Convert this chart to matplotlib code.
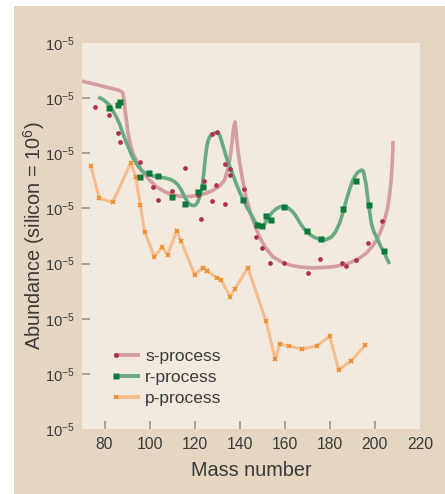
import numpy as np
import matplotlib
matplotlib.use("Agg")
import matplotlib.pyplot as plt
from matplotlib.legend_handler import HandlerLine2D
from matplotlib.lines import Line2D
from matplotlib.patches import Rectangle
from matplotlib.ticker import FixedLocator, FixedFormatter

plt.rcParams['font.family'] = ['Liberation Sans', 'DejaVu Sans']
plt.rcParams['mathtext.fontset'] = 'custom'
plt.rcParams['mathtext.rm'] = 'Liberation Sans'
plt.rcParams['mathtext.it'] = 'Liberation Sans'

# ---------------- data (log10 abundance, silicon = 1e6) ----------------
s_mass = [75.7, 81.9, 85.8, 86.8, 95.8, 101.6, 103.8, 110.1, 115.5, 122.8, 121.7, 124.0,
          127.8, 129.9, 127.6, 129.4, 133.4, 133.4, 135.7, 135.6, 141.8, 147.4, 149.7,
          153.6, 159.6, 170.1, 175.6, 185.2, 187.0, 191.6, 197.0, 203.3]
s_logab = [1.834, 1.695, 1.368, 1.199, 0.842, 0.394, 0.153, 0.325, 0.742, -0.197, 0.240, 0.503,
           1.346, 1.383, 0.126, 0.430, 0.077, 0.811, 0.724, 0.601, 0.358, -0.522, -0.717,
           -0.995, -0.995, -1.171, -0.917, -0.984, -1.047, -0.930, -0.627, -0.228]

s_curve_mass = [69.8, 77.8, 86.7, 88.0, 88.7, 89.1, 89.8, 90.4, 91.5, 92.9, 94.7, 96.4, 99.5,
                103.1, 106.6, 110.2, 114.2, 117.7, 121.3, 124.8, 128.0, 131.1, 133.3, 134.6,
                135.7, 136.6, 137.3, 137.9, 138.4, 139.1, 139.9, 141.3, 142.8, 144.4, 146.6,
                148.8, 151.5, 154.6, 158.6, 162.1, 166.6, 172.3, 177.7, 182.1, 186.6, 189.7,
                193.2, 196.3, 199.0, 201.2, 203.0, 204.3, 205.6, 206.5, 207.2, 207.6, 207.9, 208.0]
s_curve_logab = [2.311, 2.230, 2.139, 2.103, 1.967, 1.785, 1.568, 1.368, 1.151, 0.969, 0.824, 0.697,
                 0.534, 0.389, 0.307, 0.244, 0.217, 0.217, 0.235, 0.271, 0.325, 0.407, 0.516, 0.697,
                 0.915, 1.205, 1.459, 1.568, 1.386, 1.096, 0.842, 0.516, 0.207, -0.028, -0.300,
                 -0.518, -0.717, -0.872, -0.971, -1.026, -1.062, -1.080, -1.071, -1.053, -1.017, -0.971,
                 -0.899, -0.808, -0.681, -0.536, -0.373, -0.210, 0.008, 0.244, 0.516, 0.788, 1.024, 1.223]

r_mass = [81.9, 85.9, 86.8, 95.7, 99.7, 103.7, 109.9, 115.7, 121.4, 123.6, 141.4, 147.6, 149.8,
          151.7, 153.8, 159.6, 169.8, 176.0, 185.8, 191.6, 197.3, 204.0]
r_logab = [1.816, 1.872, 1.939, 0.565, 0.637, 0.583, 0.202, 0.075, 0.293, 0.383, 0.148, -0.306, -0.324,
           -0.143, -0.213, 0.021, -0.415, -0.560, -0.016, 0.492, 0.057, -0.772]

r_curve_mass = [77.2, 79.6, 82.2, 85.2, 86.7, 88.1, 89.6, 91.1, 92.4, 94.1, 95.5, 97.0, 99.1, 101.4,
                104.4, 107.4, 109.3, 111.1, 112.6, 114.1, 115.3, 116.3, 117.5, 119.2, 120.4, 121.4,
                122.4, 123.4, 124.1, 124.8, 125.4, 126.0, 126.6, 127.5, 128.8, 130.3, 131.1, 131.8,
                132.8, 134.0, 135.5, 137.0, 138.4, 139.9, 141.4, 142.9, 144.4, 145.8, 147.0, 148.2,
                148.8, 149.9, 151.0, 152.4, 153.7, 154.7, 156.4, 157.7, 159.2, 160.8, 162.1, 163.6,
                165.2, 167.3, 168.8, 171.0, 173.2, 176.2, 178.1, 180.6, 182.6, 184.3, 185.9, 187.3,
                188.8, 190.1, 191.0, 192.3, 194.0, 194.8, 195.4, 196.1, 196.9, 197.7, 198.4, 199.4,
                201.3, 202.5, 203.9, 205.2, 206.5]
r_curve_logab = [2.021, 1.967, 1.876, 1.664, 1.531, 1.363, 1.205, 1.060, 0.933, 0.819, 0.733, 0.666,
                 0.625, 0.588, 0.570, 0.547, 0.525, 0.485, 0.425, 0.334, 0.226, 0.153, 0.081, 0.050,
                 0.062, 0.122, 0.226, 0.394, 0.661, 0.938, 1.132, 1.232, 1.296, 1.341, 1.368, 1.374,
                 1.332, 1.241, 1.105, 0.938, 0.770, 0.607, 0.452, 0.304, 0.171, 0.044, -0.065, -0.173,
                 -0.255, -0.300, -0.318, -0.327, -0.282, -0.191, -0.110, -0.059, -0.001, 0.026, 0.039,
                 0.026, -0.010, -0.065, -0.155, -0.300, -0.382, -0.469, -0.527, -0.572, -0.569, -0.523,
                 -0.418, -0.269, -0.065, 0.153, 0.353, 0.507, 0.576, 0.652, 0.697, 0.679, 0.576, 0.425,
                 0.153, -0.065, -0.269, -0.409, -0.572, -0.681, -0.784, -0.899, -1.008]

p_mass = [73.9, 77.7, 83.6, 91.7, 93.8, 95.9, 97.8, 102.1, 105.6, 108.0, 112.0, 113.9, 120.0,
          123.6, 125.6, 129.7, 131.6, 135.8, 137.9, 143.6, 151.6, 155.8, 157.8, 161.8, 167.8,
          174.1, 179.9, 183.9, 189.5, 195.7]
p_logab = [0.775, 0.184, 0.111, 0.830, 0.576, 0.062, -0.422, -0.875, -0.705, -0.844, -0.404, -0.585,
           -1.202, -1.075, -1.129, -1.261, -1.292, -1.601, -1.456, -1.075, -2.036, -2.730, -2.464,
           -2.495, -2.549, -2.495, -2.319, -2.930, -2.761, -2.482]

x_ticks = [80, 100, 120, 140, 160, 180, 200, 220]
y_ticks = [1e-4, 1e-3, 1e-2, 1e-1, 1e0, 1e1, 1e2, 1e3]
y_ticklabels = [r'$\mathregular{10^{-5}}$'] * 8
series_names = ['s-process', 'r-process', 'p-process']

# ---------------- styling ----------------
TAN = '#e5d6c1'
PANEL = '#f2eadf'
PINK_LINE = '#d49ea1'
PINK_DOT = '#b0304f'
GREEN_LINE = '#68a982'
GREEN_SQ = '#0a7a3b'
ORANGE_LINE = '#f7bd8c'
ORANGE_X = '#ef8a2c'
TEXT = '#3a3a3a'

fig = plt.figure(figsize=(4.45, 4.94), dpi=100)
fig.patch.set_facecolor('white')
fig.patches.append(Rectangle((14 / 445, 0), 1 - 14 / 445, 1 - 6 / 494,
                             transform=fig.transFigure, facecolor=TAN,
                             edgecolor='none', zorder=-10))

ax = fig.add_axes([82 / 445, 1 - 429 / 494, (420 - 82) / 445, (429 - 43) / 494])
ax.set_facecolor(PANEL)
for sp in ax.spines.values():
    sp.set_visible(False)

ax.set_yscale('log')
ax.set_xlim(70, 220)
ax.set_ylim(1e-4, 1e3)

sm = np.array(s_mass); sl = 10 ** np.array(s_logab)
scm = np.array(s_curve_mass); scl = 10 ** np.array(s_curve_logab)
rm = np.array(r_mass); rl = 10 ** np.array(r_logab)
rcm = np.array(r_curve_mass); rcl = 10 ** np.array(r_curve_logab)
pm = np.array(p_mass); pl = 10 ** np.array(p_logab)

ax.plot(scm, scl, color=PINK_LINE, lw=2.6, solid_capstyle='butt', zorder=2)
ax.plot(rcm, rcl, color=GREEN_LINE, lw=2.6, solid_capstyle='butt', zorder=3)
ax.plot(pm, pl, color=ORANGE_LINE, lw=2.2, zorder=2)
ax.plot(sm, sl, ls='none', marker='o', ms=3.4, color=PINK_DOT, mec='none', zorder=4)
ax.plot(rm, rl, ls='none', marker='s', ms=4.3, color=GREEN_SQ, mec='none', zorder=5)
ax.plot(pm, pl, ls='none', marker='x', ms=3.0, mew=1.2, color=ORANGE_X, zorder=4)

# legend handles: marker at the left end of a short line
h_s = Line2D([], [], color=PINK_LINE, lw=2.8, marker='o', ms=3.6, mfc=PINK_DOT, mec='none')
h_r = Line2D([], [], color=GREEN_LINE, lw=2.8, marker='s', ms=4.3, mfc=GREEN_SQ, mec='none')
h_p = Line2D([], [], color=ORANGE_LINE, lw=2.8, marker='x', ms=3.0, mew=1.2, mec=ORANGE_X)


class LeftMarker(HandlerLine2D):
    def create_artists(self, *args, **kwargs):
        arts = super().create_artists(*args, **kwargs)
        for a in arts:
            a.set_markevery([0])
        return arts


hm = {h: LeftMarker(numpoints=1) for h in (h_s, h_r, h_p)}
leg = ax.legend([h_s, h_r, h_p], series_names, handler_map=hm, loc='lower left',
                bbox_to_anchor=(0.10, 0.06), frameon=False, fontsize=12.5,
                handlelength=1.3, handletextpad=0.4, labelspacing=0.32,
                borderpad=0, borderaxespad=0)
for t in leg.get_texts():
    t.set_color(TEXT)

ax.xaxis.set_major_locator(FixedLocator(x_ticks))
ax.yaxis.set_major_locator(FixedLocator(y_ticks))
ax.yaxis.set_major_formatter(FixedFormatter(y_ticklabels))
ax.yaxis.set_minor_locator(FixedLocator([]))
ax.tick_params(axis='both', which='major', direction='in', length=6, width=1.4,
               color='#a8a29a', labelcolor=TEXT, pad=5)
ax.tick_params(axis='x', labelsize=11.3, pad=6)
ax.tick_params(axis='y', labelsize=10.6, pad=5)
ax.xaxis.get_major_ticks()[-1].tick1line.set_visible(False)
yt = ax.yaxis.get_major_ticks()
yt[0].tick1line.set_visible(False)
yt[-1].tick1line.set_visible(False)

ax.set_xlabel('Mass number', fontsize=14.3, color=TEXT, labelpad=6)
ax.set_ylabel(r'Abundance (silicon = $\mathregular{10^6}$)', fontsize=14.3, color=TEXT, labelpad=-1)

fig.savefig('out.png', dpi=100, facecolor=fig.get_facecolor())
